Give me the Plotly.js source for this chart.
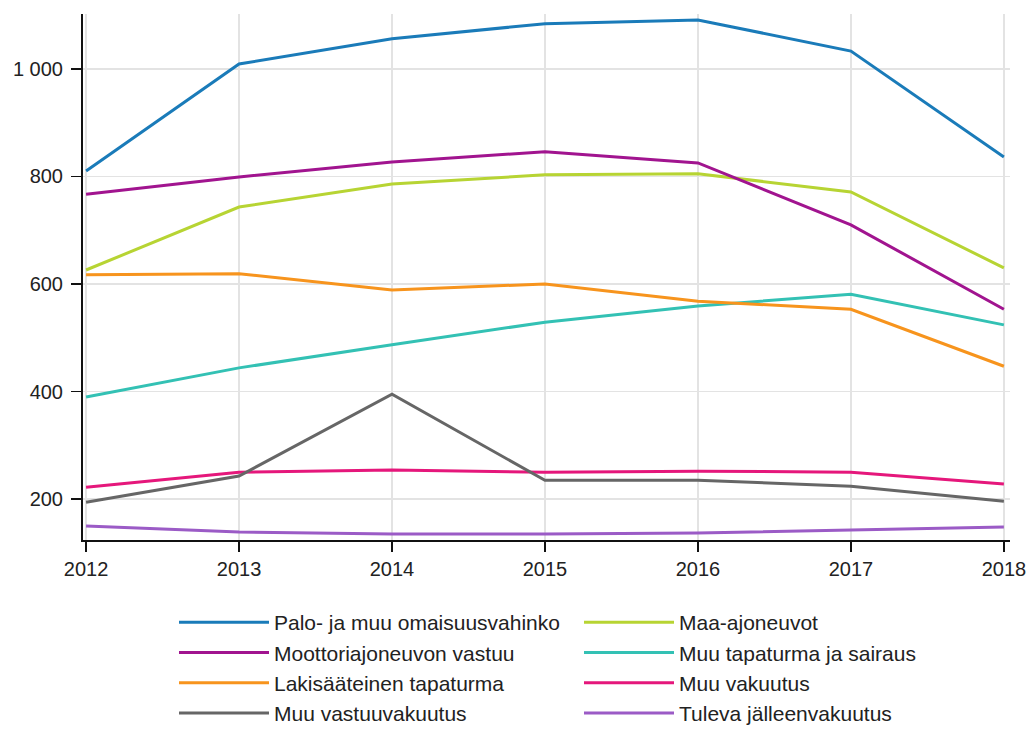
<!DOCTYPE html>
<html>
<head>
<meta charset="utf-8">
<script src="https://cdn.plot.ly/plotly-3.0.1.min.js"></script>
<style>html,body{margin:0;padding:0;background:#fff;}#chart{width:1032px;height:729px;}</style>
</head>
<body>
<div id="chart"></div>
<script>
const years = [2012, 2013, 2014, 2015, 2016, 2017, 2018];
const tickVals = [200, 400, 600, 800, 1000];

const names = [
  "Palo- ja muu omaisuusvahinko",
  "Maa-ajoneuvot",
  "Moottoriajoneuvon vastuu",
  "Muu tapaturma ja sairaus",
  "Lakisääteinen tapaturma",
  "Muu vakuutus",
  "Muu vastuuvakuutus",
  "Tuleva jälleenvakuutus"
];
const palo = [810, 1009, 1056, 1084, 1091, 1033, 836];
const maa = [626, 743, 786, 803, 805, 771, 630];
const moottori = [767, 799, 827, 846, 825, 710, 553];
const muuTapaturma = [390, 444, 487, 529, 559, 581, 524];
const lakisaateinen = [617, 619, 589, 600, 568, 553, 447];
const muuVakuutus = [222, 250, 254, 250, 252, 250, 228];
const muuVastuu = [194, 243, 395, 235, 235, 224, 196];
const tuleva = [150, 139, 135, 135, 137, 142, 148];

const seriesValues = [palo, maa, moottori, muuTapaturma, lakisaateinen, muuVakuutus, muuVastuu, tuleva];
const colors = ["#1a7bb9", "#b7d433", "#a1148f", "#33c1b4", "#f7941d", "#e5177b", "#666666", "#9b5bc6"];

const traces = seriesValues.map((vals, i) => ({
  x: years,
  y: vals,
  name: names[i],
  type: "scatter",
  mode: "lines",
  line: {color: colors[i], width: 3},
  hoverinfo: "x+y+name"
}));

const layout = {
  width: 1032,
  height: 729,
  paper_bgcolor: "#ffffff",
  plot_bgcolor: "#ffffff",
  separators: ", ",
  font: {family: "Liberation Sans, Arial, sans-serif", size: 20, color: "#222222"},
  margin: {l: 83, r: 22, t: 14, b: 189},
  showlegend: true,
  xaxis: {
    range: [2011.98, 2018.04],
    tickvals: years,
    ticktext: years.map(String),
    showgrid: true,
    gridcolor: "#e3e3e3",
    gridwidth: 1.5,
    zeroline: false,
    showline: true,
    linecolor: "#111111",
    linewidth: 2,
    ticks: "outside",
    ticklen: 10,
    tickwidth: 1.5,
    tickcolor: "#111111",
    tickfont: {size: 20, color: "#222222"},
    automargin: false
  },
  yaxis: {
    range: [124, 1102],
    tickvals: tickVals,
    tickformat: ",d",
    showgrid: true,
    gridcolor: "#e3e3e3",
    gridwidth: 1.5,
    zeroline: false,
    showline: true,
    linecolor: "#111111",
    linewidth: 2,
    ticks: "outside",
    ticklen: 10,
    tickwidth: 1.5,
    tickcolor: "#111111",
    tickfont: {size: 20, color: "#222222"},
    ticklabelstandoff: 4,
    automargin: false
  },
  legend: {
    orientation: "h",
    xref: "container",
    yref: "container",
    x: 174 / 1032,
    xanchor: "left",
    y: 1 - 602 / 729,
    yanchor: "top",
    entrywidth: 300,
    entrywidthmode: "pixels",
    itemwidth: 90,
    font: {size: 21, color: "#222222"},
    traceorder: "normal",
    bgcolor: "rgba(0,0,0,0)"
  }
};

Plotly.newPlot("chart", traces, layout, {displayModeBar: false, staticPlot: true});
</script>
</body>
</html>
